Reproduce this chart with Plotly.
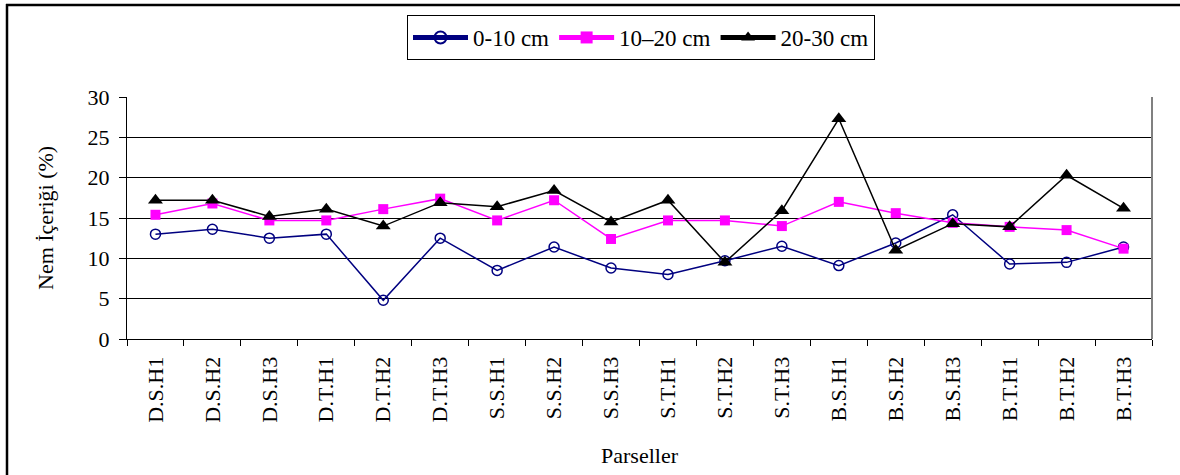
import plotly.graph_objects as go

categories = ["D.S.H1", "D.S.H2", "D.S.H3", "D.T.H1", "D.T.H2", "D.T.H3",
              "S.S.H1", "S.S.H2", "S.S.H3", "S.T.H1", "S.T.H2", "S.T.H3",
              "B.S.H1", "B.S.H2", "B.S.H3", "B.T.H1", "B.T.H2", "B.T.H3"]
depth_0_10 = [13.0, 13.6, 12.5, 13.0, 4.8, 12.5, 8.5, 11.4, 8.8, 8.0, 9.7, 11.5,
              9.1, 11.9, 15.4, 9.3, 9.5, 11.4]
depth_10_20 = [15.4, 16.8, 14.7, 14.7, 16.1, 17.4, 14.7, 17.2, 12.4, 14.7, 14.7, 14.0,
               17.0, 15.6, 14.4, 13.9, 13.5, 11.2]
depth_20_30 = [17.2, 17.2, 15.2, 16.1, 14.0, 16.9, 16.4, 18.4, 14.5, 17.2, 9.5, 15.9,
               27.3, 11.0, 14.3, 13.9, 20.3, 16.2]
y_ticks = [0, 5, 10, 15, 20, 25, 30]
series_names = ["0-10 cm", "10\u201320 cm", "20-30 cm"]

FONT = "Liberation Serif"
W, H = 1180, 475
L, R, T, B = 127, 28, 97, 136
PW, PH = W - L - R, H - T - B


def px_x(px):
    return (px - L) / PW


def px_y(py):
    return (H - B - py) / PH


fig = go.Figure()
fig.add_trace(go.Scatter(x=categories, y=depth_0_10, name=series_names[0], mode="lines+markers",
                         line=dict(color="#000080", width=1.5),
                         marker=dict(symbol="circle-open", size=10, color="#000080",
                                     line=dict(width=1.5, color="#000080"))))
fig.add_trace(go.Scatter(x=categories, y=depth_10_20, name=series_names[1], mode="lines+markers",
                         line=dict(color="#FF00FF", width=1.5),
                         marker=dict(symbol="square", size=10, color="#FF00FF")))
fig.add_trace(go.Scatter(x=categories, y=depth_20_30, name=series_names[2], mode="lines+markers",
                         line=dict(color="#000000", width=1.5),
                         marker=dict(symbol="triangle-up", size=13, color="#000000")))

fig.update_layout(
    width=W, height=H,
    margin=dict(l=L, r=R, t=T, b=B, autoexpand=False),
    paper_bgcolor="white", plot_bgcolor="white",
    font=dict(family=FONT, size=22, color="black"),
    showlegend=True,
    legend=dict(orientation="h", x=px_x(641), xanchor="center", y=px_y(15), yanchor="top",
                bordercolor="black", borderwidth=1, bgcolor="white",
                font=dict(family=FONT, size=23, color="black"),
                itemsizing="constant", tracegroupgap=0, itemwidth=55),
    xaxis=dict(type="category", categoryorder="array", categoryarray=categories,
               tickmode="array", tickvals=categories, ticktext=categories,
               tickangle=-90, tickson="boundaries", ticks="outside", ticklen=6,
               tickcolor="black", showline=True, linecolor="black", linewidth=1,
               showgrid=False, zeroline=False, ticklabelstandoff=8,
               tickfont=dict(family=FONT, size=22, color="black"),
               range=[-0.5, len(categories) - 0.5], fixedrange=True),
    yaxis=dict(range=[0, 30], tickmode="array", tickvals=y_ticks,
               ticktext=[str(v) for v in y_ticks],
               ticks="outside", ticklen=7, tickcolor="black",
               showline=True, linecolor="black", linewidth=1,
               showgrid=True, gridcolor="black", gridwidth=1, zeroline=False,
               ticklabelstandoff=5,
               tickfont=dict(family=FONT, size=22, color="black"), fixedrange=True),
    annotations=[
        dict(text="Nem \u0130\u00e7eri\u011fi (%)", xref="paper", yref="paper",
             x=px_x(45), y=0.5, xanchor="center", yanchor="middle", textangle=-90,
             showarrow=False, font=dict(family=FONT, size=22, color="black")),
        dict(text="Parseller", xref="paper", yref="paper",
             x=0.5, y=px_y(455), xanchor="center", yanchor="middle",
             showarrow=False, font=dict(family=FONT, size=22, color="black")),
    ],
    shapes=[
        dict(type="line", xref="paper", yref="paper", x0=1, x1=1, y0=0, y1=1,
             line=dict(color="#808080", width=2)),
        dict(type="line", xref="paper", yref="paper", x0=px_x(7), x1=px_x(7),
             y0=px_y(4), y1=px_y(480), line=dict(color="black", width=2.5)),
        dict(type="line", xref="paper", yref="paper", x0=px_x(6), x1=px_x(1185),
             y0=px_y(5), y1=px_y(5), line=dict(color="black", width=2.5)),
    ],
)

fig.write_html("out.html")
